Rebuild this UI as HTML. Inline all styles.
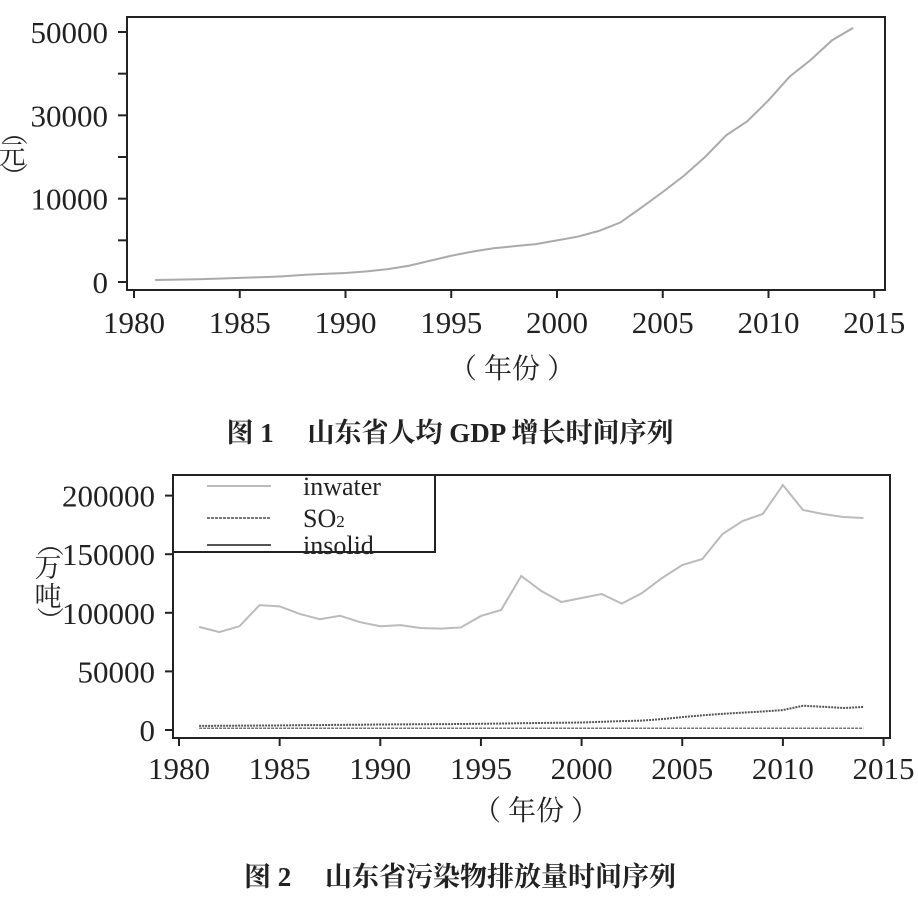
<!DOCTYPE html>
<html><head><meta charset="utf-8"><style>
html,body{margin:0;padding:0;background:#fff}
svg{display:block}
.t{font-family:"Liberation Serif","Noto Serif CJK SC",serif;fill:#222}
.c{font-family:"Liberation Serif","Noto Serif CJK SC",serif;fill:#222}
</style></head><body>
<svg id="s" width="918" height="900" viewBox="0 0 918 900" xmlns="http://www.w3.org/2000/svg">
<g id="c1"></g>
<g id="c2"></g>
<text class="c" x="512" y="378" font-size="28" text-anchor="middle">（ 年份 ）</text>
<text class="c" x="450" y="442" font-size="27" font-weight="bold" text-anchor="middle">图 1　 山东省人均 GDP 增长时间序列</text>
<g>
<text class="t" x="12" y="140" font-size="27" text-anchor="middle" transform="rotate(90 12 132)">（</text>
<text class="t" x="12" y="164" font-size="27" text-anchor="middle">元</text>
<text class="t" x="12" y="184" font-size="27" text-anchor="middle" transform="rotate(90 12 176)">）</text>
</g>
<text class="c" x="536" y="820" font-size="28" text-anchor="middle">（ 年份 ）</text>
<text class="c" x="460" y="886" font-size="27" font-weight="bold" text-anchor="middle">图 2　 山东省污染物排放量时间序列</text>
<g>
<text class="t" x="48" y="551" font-size="27" text-anchor="middle" transform="rotate(90 48 543)">（</text>
<text class="t" x="48" y="577" font-size="27" text-anchor="middle">万</text>
<text class="t" x="48" y="606" font-size="27" text-anchor="middle">吨</text>
<text class="t" x="48" y="628" font-size="27" text-anchor="middle" transform="rotate(90 48 620)">）</text>
</g>
</svg>
<script>
const years=[1981,1982,1983,1984,1985,1986,1987,1988,1989,1990,1991,1992,1993,1994,1995,1996,1997,1998,1999,2000,2001,2002,2003,2004,2005,2006,2007,2008,2009,2010,2011,2012,2013,2014];
const gdp=[480,560,650,800,1000,1150,1350,1700,1950,2150,2550,3100,3900,5100,6300,7300,8100,8600,9100,10000,10900,12300,14300,17900,21600,25500,30000,35200,38600,43600,49300,53300,58000,61000];
const gdpTicks=[0,10000,20000,30000,40000,50000,60000];
const gdpTickLabels=["0","","10000","","30000","","50000"];
const inwater=[88000,83500,88500,106500,105500,99000,94500,97500,92000,88500,89500,87000,86500,87500,97300,102400,131400,118600,109200,112600,116000,107800,116900,129700,140800,145900,167200,178300,184300,209000,187700,184300,181700,180900];
const so2=[1500,1500,1500,1500,1500,1500,1500,1500,1500,1500,1500,1500,1500,1500,1500,1500,1500,1500,1500,1500,1500,1500,1500,1500,1500,1500,1500,1500,1500,1500,1500,1500,1500,1500];
const insolid=[3500,3600,3700,3800,3900,4100,4200,4400,4500,4700,4800,4900,5000,5100,5300,5500,5800,6000,6200,6400,7000,7600,8000,9300,11000,12500,13800,14800,15800,17000,20700,19800,18800,19600];
const polTicks=[0,50000,100000,150000,200000];
const xTicks=[1980,1985,1990,1995,2000,2005,2010,2015];
const NS="http://www.w3.org/2000/svg";
function mk(p,tag,at){const e=document.createElementNS(NS,tag);for(const k in at)e.setAttribute(k,at[k]);p.appendChild(e);return e;}
const x1=y=>134+(y-1980)*21.15;
const y1=v=>282-v/60000*250;
const x2=y=>179+(y-1980)*20.13;
const y2=v=>730-v/50000*58.6;
const c1=document.getElementById('c1'),c2=document.getElementById('c2');
let f=mk(c1,'rect',{x:127,y:17,width:758,height:273,fill:'none',stroke:'#222','stroke-width':2});


gdpTicks.forEach((v,i)=>{
 let t=mk(c1,'line',{x1:118,x2:127,y1:y1(v),y2:y1(v),stroke:'#222','stroke-width':2});
 
 
 if(gdpTickLabels[i]){let l=mk(c1,'text',{x:108,y:y1(v)+11,'font-size':31,'text-anchor':'end',class:'t'});l.textContent=gdpTickLabels[i];
 
 }
});
xTicks.forEach(v=>{
 let t=mk(c1,'line',{x1:x1(v),x2:x1(v),y1:290,y2:298,stroke:'#222','stroke-width':2});
 
 
 let l=mk(c1,'text',{x:x1(v),y:333,'font-size':31,'text-anchor':'middle',class:'t'});l.textContent=v;
 
 
});
let g=mk(c1,'polyline',{points:years.map((yr,i)=>x1(yr)+','+y1(gdp[i])).join(' '),fill:'none',stroke:'#aaa','stroke-width':2});


f=mk(c2,'rect',{x:173,y:475,width:717,height:263,fill:'none',stroke:'#222','stroke-width':2});


polTicks.forEach(v=>{
 let t=mk(c2,'line',{x1:165,x2:173,y1:y2(v),y2:y2(v),stroke:'#222','stroke-width':2});
 
 
 let l=mk(c2,'text',{x:155,y:y2(v)+11,'font-size':31,'text-anchor':'end',class:'t'});l.textContent=v;
 
 
});
xTicks.forEach(v=>{
 let t=mk(c2,'line',{x1:x2(v),x2:x2(v),y1:738,y2:746,stroke:'#222','stroke-width':2});
 
 
 let l=mk(c2,'text',{x:x2(v),y:779,'font-size':31,'text-anchor':'middle',class:'t'});l.textContent=v;
 
 
});
const pts=a=>years.map((yr,i)=>x2(yr)+','+y2(a[i])).join(' ');
let l1=mk(c2,'polyline',{points:pts(inwater),fill:'none',stroke:'#bbb','stroke-width':2});


let l2=mk(c2,'polyline',{points:pts(so2),fill:'none',stroke:'#777','stroke-width':1.5,'stroke-dasharray':'3,1'});


let l3=mk(c2,'polyline',{points:pts(insolid),fill:'none',stroke:'#555','stroke-width':2,'stroke-dasharray':'2,1'});


let lg=mk(c2,'g',{});


mk(lg,'rect',{x:173,y:475,width:262,height:77,fill:'#fff',stroke:'#222','stroke-width':2});
const ents=[["inwater",486,'#bbb',''],["SO",518,'#777','3,1'],["insolid",545,'#555','']];
ents.forEach(e=>{
 let eg=mk(lg,'g',{});
 
 
 mk(eg,'line',{x1:207,x2:271,y1:e[1],y2:e[1],stroke:e[2],'stroke-width':2,'stroke-dasharray':e[3]||'none'});
 let t=mk(eg,'text',{x:303,y:e[1]+9,'font-size':26,class:'t'});t.textContent=e[0];
 if(e[0]==="SO"){let s=mk(t,'tspan',{'font-size':17});s.textContent="2";}
});
</script>
</body></html>
